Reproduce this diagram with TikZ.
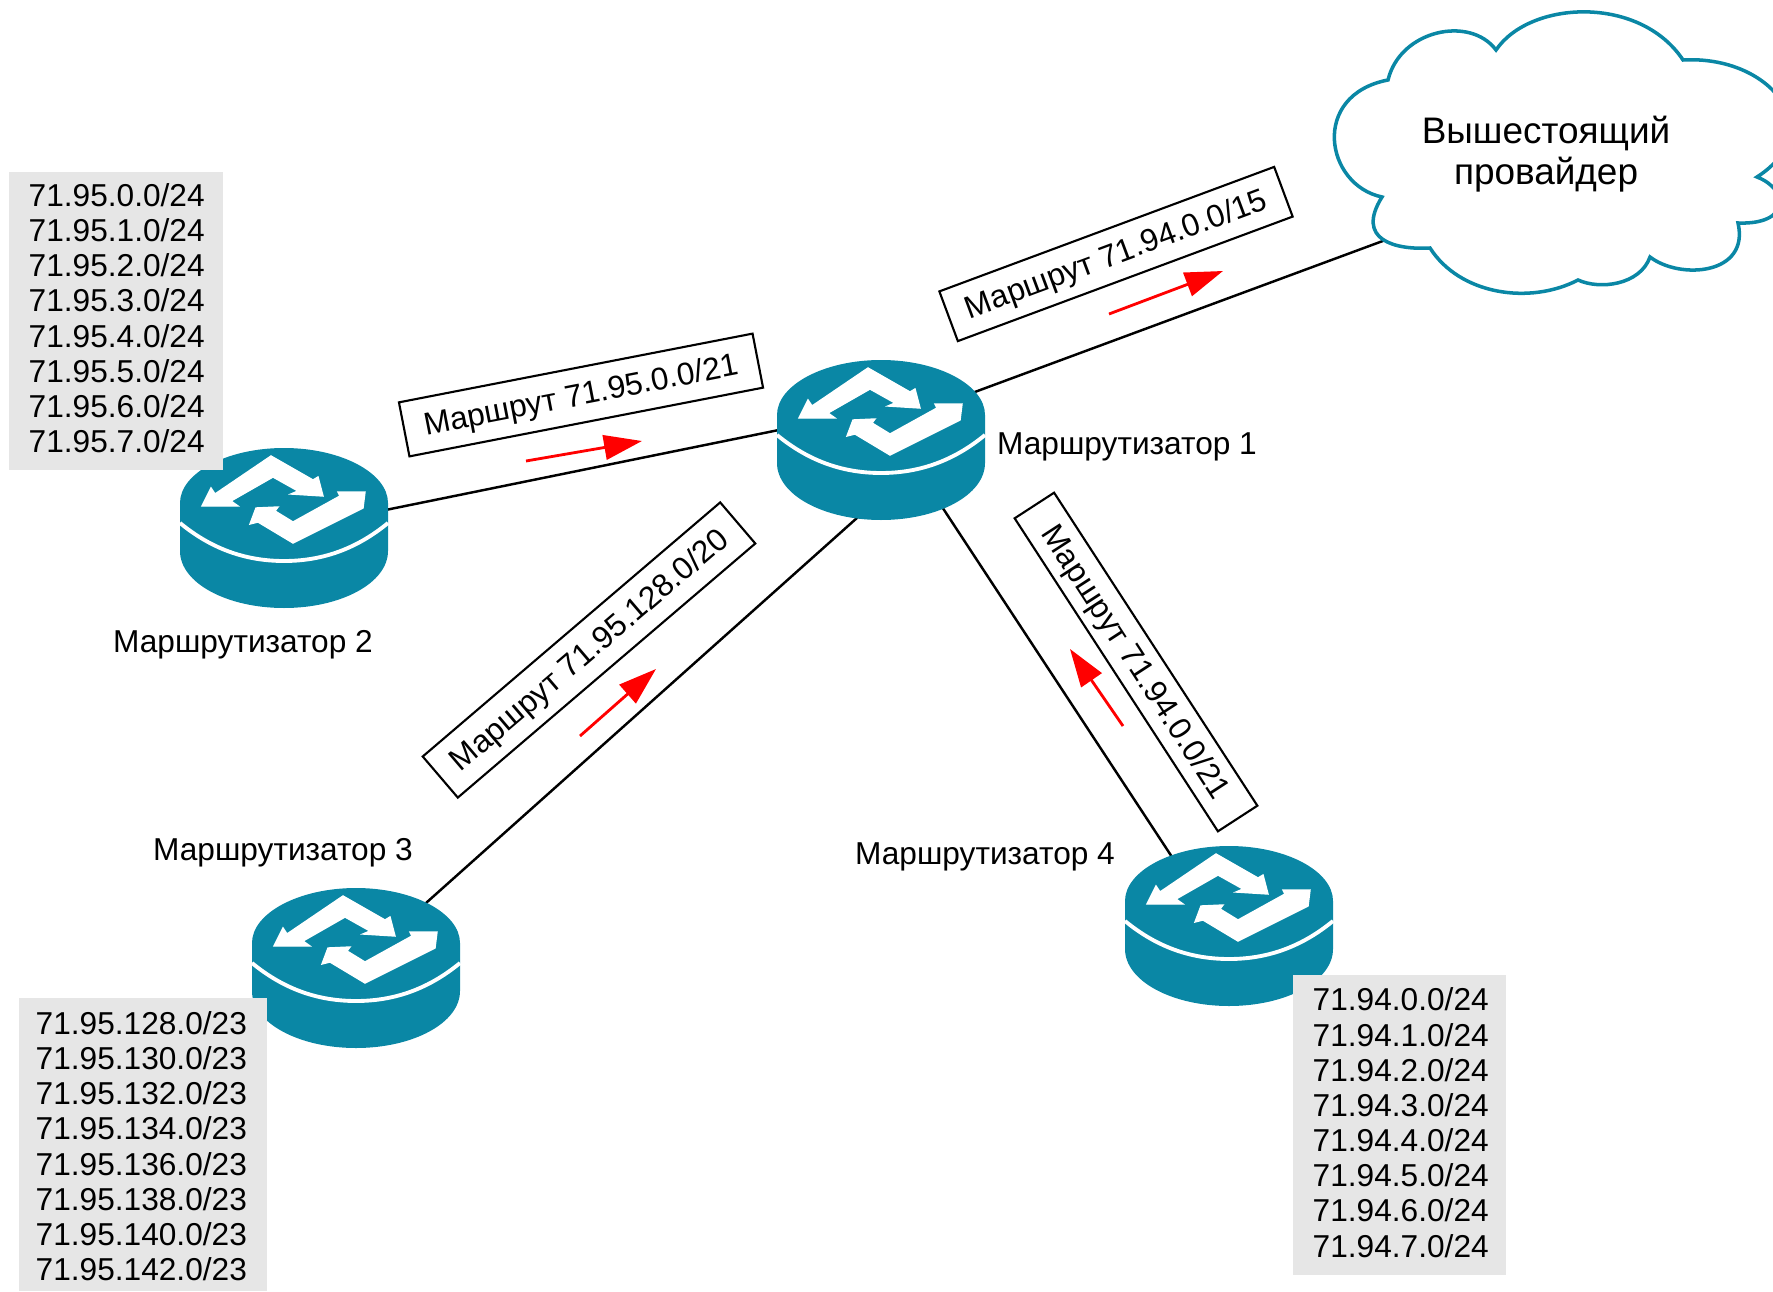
\documentclass[tikz,border=0pt]{standalone}
\usepackage{fontspec}
\setmainfont{Liberation Sans}
\usetikzlibrary{arrows.meta,shapes.geometric}
\definecolor{routerteal}{HTML}{0A87A5}
\definecolor{listgray}{HTML}{E6E6E6}
\tikzset{
  routerspot/.style={ellipse,inner sep=0,minimum width=2cm,minimum height=1.5cm},
  cloudspot/.style={ellipse,inner sep=0,minimum width=3.4cm,minimum height=1.8cm},
  routername/.style={font=\fontsize{9}{10}\selectfont},
  routebox/.style={draw,fill=white,line width=0.6pt,inner sep=0,text height=7.7pt,text depth=1.9pt,font=\fontsize{9}{10}\selectfont},
  listback/.style={fill=listgray,inner sep=0},
  netlist/.style={anchor=west,inner sep=0,align=left,font=\fontsize{9}{10}\selectfont},
  link/.style={-,line width=0.7pt},
  flow/.style={-{Triangle[length=10.8pt,width=7pt]},red,line width=0.8pt},
  pics/routericon/.style={code={
    \fill[routerteal] (-104,0) .. controls (-104,-30) and (-57,-55) .. (0,-55) .. controls (57,-55) and (104,-30) .. (104,0) -- (104,48) .. controls (104,80) and (57,105) .. (0,105) .. controls (-57,105) and (-104,80) .. (-104,48) -- cycle;
    \draw[white,line width=1.1pt] (-104,20) .. controls (-70,48) and (-35,58) .. (0,58) .. controls (35,58) and (70,48) .. (104,20);
    \filldraw[white,line width=0.4pt] (-82,3) -- (-73,-15) -- (-69,-9) -- (-13,-47) -- (29,-23) -- (34,-26) -- (39,-7) -- (7,-9) -- (14,-12) -- (-11,-26) -- (-53,-2) -- (-46,3) -- cycle;
    \filldraw[white,line width=0.4pt] (81,-11) -- (54,-11) -- (56,-7) -- (9,19) -- (-9,8) -- (-6,4) -- (-28,5) -- (-34,21) -- (-26,19) -- (9,40) -- (79,5) -- cycle;
  }}
}
\begin{document}
\begin{tikzpicture}[x=0.01cm,y=-0.01cm]
        \useasboundingbox (0,0) rectangle (1773,1291);

        \node[routerspot] (r1) at (881,440){};
        \node[routerspot] (r2) at (284,528){};
        \node[routerspot] (r3) at (356,968){};
        \node[routerspot] (r4) at (1229,926){};
        \node[cloudspot] (provider) at (1547,150){};

        \path[link] (r2.10.5) edge (r1.174.4);
        \path[link] (r3.43.2) edge (r1.255);
        \path[link] (r4.130) edge (r1.313.4);
        \path[link] (r1.28) edge (provider.213.6);

        \fill[white,draw=routerteal,line width=1pt] (1382,197) .. controls (1325,185) and (1310,95) .. (1388,80)
            .. controls (1400,30) and (1470,15) .. (1496,50)
            .. controls (1530,0) and (1640,-5) .. (1683,60)
            .. controls (1770,55) and (1830,130) .. (1757,177)
            .. controls (1790,190) and (1790,225) .. (1738,223)
            .. controls (1750,275) and (1680,280) .. (1650,257)
            .. controls (1640,285) and (1600,290) .. (1578,280)
            .. controls (1530,305) and (1460,295) .. (1430,248)
            .. controls (1395,250) and (1355,240) .. (1382,197) -- cycle;
        \node[align=center,font=\fontsize{10.5}{11.6}\selectfont] (providername) at (1546,154.4){Вышестоящий\\провайдер};

        \pic at (881,415) {routericon};
        \pic at (284,503) {routericon};
        \pic at (356,943) {routericon};
        \pic at (1229,901) {routericon};

        \node[listback,minimum width=2.14cm,minimum height=2.98cm] (back2) at (116,321){};
        \node[listback,minimum width=2.48cm,minimum height=2.93cm] (back3) at (143,1144.5){};
        \node[listback,minimum width=2.13cm,minimum height=3.00cm] (back4) at (1399.5,1125){};

        \node[netlist] (list2) at (28,318.2){71.95.0.0/24\\71.95.1.0/24\\71.95.2.0/24\\71.95.3.0/24\\71.95.4.0/24\\71.95.5.0/24\\71.95.6.0/24\\71.95.7.0/24};
        \node[netlist] (list3) at (35,1146.2){71.95.128.0/23\\71.95.130.0/23\\71.95.132.0/23\\71.95.134.0/23\\71.95.136.0/23\\71.95.138.0/23\\71.95.140.0/23\\71.95.142.0/23};
        \node[netlist] (list4) at (1312,1122.7){71.94.0.0/24\\71.94.1.0/24\\71.94.2.0/24\\71.94.3.0/24\\71.94.4.0/24\\71.94.5.0/24\\71.94.6.0/24\\71.94.7.0/24};

        \node[routername] (name1) at (1127,446.4){Маршрутизатор 1};
        \node[routername] (name2) at (243,644.4){Маршрутизатор 2};
        \node[routername] (name3) at (283,852.4){Маршрутизатор 3};
        \node[routername] (name4) at (985,856.4){Маршрутизатор 4};

        \node[routebox,rotate=11,minimum width=3.6cm,minimum height=0.55cm] (route2) at (581,395){Маршрут 71.95.0.0/21};
        \node[routebox,rotate=20.4,minimum width=3.57cm,minimum height=0.53cm] (route1) at (1116,254){Маршрут 71.94.0.0/15};
        \node[routebox,rotate=40.5,minimum width=3.91cm,minimum height=0.54cm] (route3) at (589,650){Маршрут 71.95.128.0/20};
        \node[routebox,rotate=-57,minimum width=3.73cm,minimum height=0.47cm] (route4) at (1136,662){Маршрут 71.94.0.0/21};

        \coordinate (flow2a) at (526,461);
        \coordinate (flow2b) at (642,441);
        \coordinate (flow1a) at (1109,314);
        \coordinate (flow1b) at (1223,271);
        \coordinate (flow3a) at (580,736);
        \coordinate (flow3b) at (656,669);
        \coordinate (flow4a) at (1123,726);
        \coordinate (flow4b) at (1070,649);
        \path[flow] (flow2a) edge (flow2b);
        \path[flow] (flow1a) edge (flow1b);
        \path[flow] (flow3a) edge (flow3b);
        \path[flow] (flow4a) edge (flow4b);

\end{tikzpicture}
\end{document}
